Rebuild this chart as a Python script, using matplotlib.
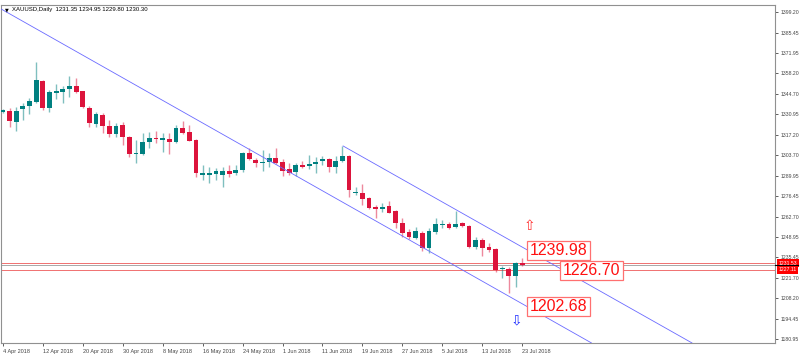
import numpy as np
import matplotlib
matplotlib.use("Agg")
import matplotlib.pyplot as plt

# daily XAUUSD candles, 4 Apr 2018 .. 23 Jul 2018
opens = [1332.7, 1333.3, 1326.0, 1334.3, 1336.5, 1339.3, 1353.3, 1335.3, 1345.3, 1346.0,
         1347.8, 1349.8, 1346.3, 1335.3, 1324.4, 1330.5, 1323.3, 1317.6, 1323.8, 1315.6,
         1304.2, 1304.6, 1312.4, 1315.1, 1313.8, 1314.6, 1312.4, 1321.6, 1319.1, 1313.8,
         1290.4, 1290.6, 1290.9, 1290.4, 1293.1, 1291.5, 1293.7, 1304.9, 1300.4, 1298.2,
         1298.9, 1301.5, 1299.3, 1294.2, 1292.4, 1297.3, 1296.6, 1297.5, 1299.7, 1300.9,
         1295.9, 1299.9, 1303.1, 1278.2, 1278.2, 1274.8, 1268.8, 1267.5, 1269.7, 1266.6,
         1258.6, 1252.6, 1248.6, 1251.9, 1241.5, 1252.6, 1256.8, 1257.7, 1255.5, 1258.2,
         1256.4, 1242.5, 1247.0, 1242.1, 1240.8, 1227.7, 1227.5, 1223.0, 1231.35]
highs = [1334.5, 1335.3, 1336.0, 1338.7, 1341.6, 1366.0, 1353.8, 1347.1, 1351.1, 1349.8,
         1356.5, 1354.9, 1346.7, 1336.5, 1332.7, 1332.0, 1327.1, 1324.9, 1326.0, 1316.4,
         1313.8, 1318.2, 1319.3, 1320.0, 1318.2, 1318.2, 1323.8, 1326.6, 1323.8, 1314.2,
         1297.1, 1295.5, 1294.9, 1295.5, 1297.1, 1297.1, 1306.0, 1308.2, 1301.5, 1307.1,
         1304.9, 1308.2, 1300.9, 1298.2, 1298.6, 1299.9, 1303.8, 1302.2, 1303.1, 1301.5,
         1303.1, 1309.8, 1303.8, 1282.6, 1284.4, 1275.5, 1270.4, 1271.9, 1273.0, 1267.0,
         1261.5, 1254.2, 1255.5, 1253.2, 1254.8, 1261.5, 1260.4, 1259.2, 1266.6, 1259.2,
         1257.0, 1249.2, 1248.1, 1245.2, 1241.5, 1229.7, 1229.2, 1232.5, 1234.95]
lows = [1331.8, 1322.6, 1319.8, 1327.1, 1331.1, 1338.7, 1333.8, 1332.7, 1340.9, 1338.3,
        1342.7, 1345.3, 1335.3, 1322.6, 1322.6, 1318.6, 1315.6, 1315.6, 1310.4, 1302.2,
        1298.2, 1303.8, 1308.2, 1311.6, 1306.0, 1304.4, 1311.6, 1317.8, 1313.1, 1289.3,
        1287.1, 1285.3, 1287.1, 1282.6, 1289.3, 1290.4, 1292.6, 1300.4, 1295.9, 1293.1,
        1295.9, 1297.7, 1289.7, 1290.4, 1289.7, 1294.9, 1294.2, 1291.9, 1297.1, 1292.6,
        1291.5, 1299.3, 1275.9, 1277.1, 1270.4, 1267.5, 1261.5, 1265.9, 1264.8, 1254.8,
        1249.2, 1247.5, 1247.5, 1239.9, 1238.5, 1251.0, 1254.8, 1254.2, 1254.8, 1255.5,
        1241.5, 1240.8, 1236.3, 1239.2, 1225.9, 1221.4, 1211.4, 1215.8, 1229.80]
closes = [1333.8, 1326.4, 1333.3, 1336.5, 1339.6, 1353.8, 1335.3, 1345.8, 1346.5, 1347.6,
          1349.8, 1346.0, 1336.0, 1325.3, 1331.1, 1323.1, 1317.6, 1323.3, 1315.6, 1304.4,
          1305.3, 1312.4, 1315.1, 1314.2, 1315.1, 1312.4, 1321.6, 1318.6, 1313.3, 1291.5,
          1291.5, 1291.5, 1293.1, 1293.1, 1291.3, 1293.7, 1304.9, 1300.9, 1298.2, 1299.3,
          1301.5, 1298.6, 1293.3, 1291.9, 1297.1, 1295.9, 1297.3, 1299.3, 1300.9, 1295.9,
          1299.9, 1303.1, 1280.4, 1279.3, 1274.2, 1268.2, 1267.5, 1269.2, 1265.2, 1258.6,
          1251.9, 1248.8, 1253.0, 1241.5, 1253.2, 1257.7, 1257.7, 1254.8, 1257.7, 1256.4,
          1242.5, 1247.0, 1241.5, 1240.3, 1227.0, 1228.5, 1223.0, 1231.4, 1230.30]

date_labels = ['4 Apr 2018', '12 Apr 2018', '20 Apr 2018', '30 Apr 2018', '8 May 2018',
               '16 May 2018', '24 May 2018', '1 Jun 2018', '11 Jun 2018', '19 Jun 2018',
               '27 Jun 2018', '5 Jul 2018', '13 Jul 2018', '23 Jul 2018']
price_ticks = [1399.20, 1385.45, 1371.95, 1358.20, 1344.70, 1330.95, 1317.20, 1303.70,
               1289.95, 1276.45, 1262.70, 1248.95, 1235.45, 1221.70, 1208.20, 1194.45, 1180.95]

# channel lines (bar index, price)
chan_a_x = [-0.25, 88.4]
chan_a_y = [1401.2, 1178.3]
chan_b_x = [51.1, 103.5]
chan_b_y = [1309.8, 1178.3]

# horizontal levels
hlines_red = [1231.53, 1227.11]
bid = 1230.30

# level labels drawn on chart
level_vals = [1239.98, 1226.70, 1202.68]
level_x = [79.1, 84.1, 79.1]

bull = '#008080'
bear = '#dc143c'
small = ['Liberation Sans', 'DejaVu Sans']

fig = plt.figure(figsize=(8, 3.57), dpi=100)
ax = fig.add_axes([0.0015, 14 / 357, 774 / 800, 338 / 357])

o = np.array(opens)
h = np.array(highs)
l = np.array(lows)
c = np.array(closes)
x = np.arange(len(o))
up = c >= o
cols = np.where(up, bull, bear)

ax.vlines(x, l, h, colors=cols, linewidth=1.0, alpha=0.5, zorder=2)
body = np.maximum(np.abs(c - o), 0.9)
ax.bar(x, body, bottom=np.minimum(o, c), width=0.72, color=cols, linewidth=0, zorder=3)

ax.plot(chan_a_x, chan_a_y, color='#6a6aff', lw=0.6, zorder=4)
ax.plot(chan_b_x, chan_b_y, color='#6a6aff', lw=0.6, zorder=4)

for v in hlines_red:
    ax.axhline(v, color='#f07070', lw=0.7, zorder=1)
ax.axhline(bid, color='#a8a8a8', lw=0.7, zorder=1)

for v, xx in zip(level_vals, level_x):
    ax.text(xx, v, f'{v:.2f}', color='#ff1010', fontsize=11.5, family=small,
            ha='left', va='center', zorder=6,
            bbox=dict(boxstyle='square,pad=0.15', fc='white', ec='#ff7070', lw=0.9))

ax.text(79.1, 1256.4, '\u21e7', color='#ff3030', fontsize=10, ha='center', va='center', zorder=6)
ax.text(77.1, 1193.3, '\u21e9', color='#2030ff', fontsize=10, ha='center', va='center', zorder=6)

ax.set_xlim(-0.25, 116)
ax.set_ylim(1178.26, 1403.9)

ax.yaxis.tick_right()
ax.set_yticks(price_ticks)
ax.set_yticklabels([f'{v:.2f}' for v in price_ticks])
ax.tick_params(axis='y', length=2.5, width=0.6, colors='#444', labelsize=3.7, pad=1.2)
ax.set_xticks(np.arange(0, 79, 6))
ax.set_xticklabels(date_labels)
ax.tick_params(axis='x', length=2.5, width=0.6, colors='#444', labelsize=4.0, pad=1.5)
for t in ax.get_xticklabels() + ax.get_yticklabels():
    t.set_family(small)
for t in ax.get_xticklabels():
    t.set_horizontalalignment('left')

for s in ax.spines.values():
    s.set_color('#909090')
    s.set_linewidth(0.8)

# price labels on the axis
for v in hlines_red:
    ax.annotate(f'{v:.2f}', xy=(1.0, v), xycoords=('axes fraction', 'data'),
                xytext=(2.5, 0), textcoords='offset points', fontsize=3.7, family=small,
                color='white', va='center', ha='left', annotation_clip=False,
                bbox=dict(boxstyle='square,pad=0.25', fc='#ff0000', ec='none'))
ax.plot([1.0, 1.03], [bid, bid], transform=ax.get_yaxis_transform(), color='black',
        lw=0.8, clip_on=False, zorder=7)

fig.text(0.006, 0.972, '\u25bc', fontsize=3.5, color='black', va='center')
fig.text(0.015, 0.972, 'XAUUSD,Daily  1231.35 1234.95 1229.80 1230.30', fontsize=4.3,
         family=small, color='black', va='center')

fig.savefig('out.png', dpi=100, facecolor='white')
